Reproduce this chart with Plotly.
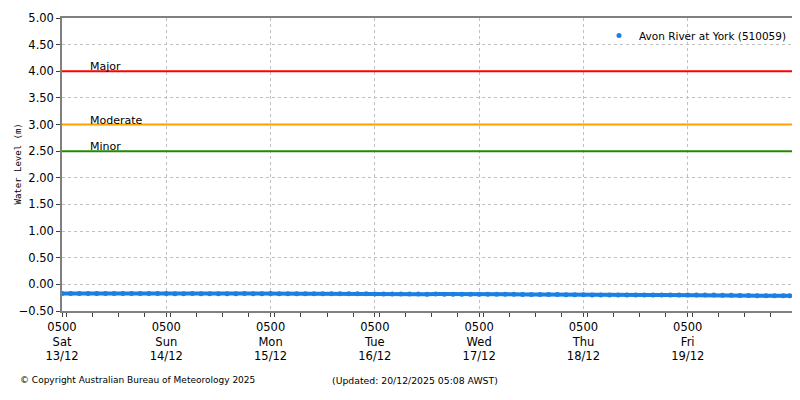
import pandas as pd
import plotly.graph_objects as go

# water level at York, every 2 hours from 0500 Sat 13/12
START = '2025-12-13 05:00'
LEVELS = [
    -0.170, -0.172, -0.170, -0.171, -0.173, -0.170, -0.172, -0.171, -0.170, -0.172, -0.173, -0.171,
    -0.172, -0.174, -0.176, -0.173, -0.178, -0.175, -0.177, -0.176, -0.174, -0.173, -0.175, -0.174,
    -0.173, -0.175, -0.174, -0.176, -0.175, -0.174, -0.176, -0.177, -0.178, -0.176, -0.177, -0.178,
    -0.179, -0.180, -0.181, -0.182, -0.181, -0.183, -0.184, -0.183, -0.185, -0.184, -0.185, -0.186,
    -0.185, -0.186, -0.187, -0.186, -0.187, -0.188, -0.189, -0.188, -0.190, -0.192, -0.194, -0.195,
    -0.196, -0.198, -0.199, -0.200, -0.199, -0.200, -0.201, -0.200, -0.199, -0.198, -0.199, -0.200,
    -0.199, -0.200, -0.201, -0.202, -0.203, -0.205, -0.208, -0.210, -0.212, -0.213, -0.214, -0.215,
    -0.216,
]

THRESH_NAMES = ['Major', 'Moderate', 'Minor']
THRESH_LEVELS = [4.0, 3.0, 2.5]
THRESH_COLORS = ['#ff0000', '#ffa000', '#208a00']

TICK_DAYS = ['Sat', 'Sun', 'Mon', 'Tue', 'Wed', 'Thu', 'Fri']
TICK_DATES = ['13/12', '14/12', '15/12', '16/12', '17/12', '18/12', '19/12']

BLUE = '#1b7fe3'
FONT = 'DejaVu Sans'

times = pd.date_range(START, periods=len(LEVELS), freq='2h')
# last reading is just before 0500 Sat 20/12
times = list(times[:-1]) + [times[-1] - pd.Timedelta(minutes=30)]
tick_vals = pd.date_range(START, periods=len(TICK_DAYS), freq='D')
tick_text = [f'0500<br>{d}<br>{dt}' for d, dt in zip(TICK_DAYS, TICK_DATES)]

fig = go.Figure()

fig.add_trace(go.Scatter(
    x=times, y=LEVELS, mode='lines',
    line={'color': BLUE, 'width': 4},
    showlegend=False, hoverinfo='skip'
))
fig.add_trace(go.Scatter(
    x=times, y=LEVELS, mode='markers',
    marker={'color': BLUE, 'size': 5},
    name='Avon River at York (510059)'
))

for name, level, color in zip(THRESH_NAMES, THRESH_LEVELS, THRESH_COLORS):
    fig.add_shape(
        type='line', xref='paper', yref='y',
        x0=0.0, x1=1.0, y0=level, y1=level,
        line={'color': color, 'width': 2}
    )
    fig.add_annotation(
        x=0.035, y=level, xref='paper', yref='y',
        xanchor='left', yanchor='bottom', yshift=-4,
        text=name, showarrow=False,
        font={'family': FONT, 'size': 11, 'color': 'black'}
    )

fig.add_annotation(
    x=-0.0616, y=0.5, xref='paper', yref='paper', xanchor='center', yanchor='middle',
    text='Water Level (m)', textangle=-90, showarrow=False,
    font={'family': 'DejaVu Sans Mono', 'size': 9, 'color': 'black'}
)
fig.add_annotation(
    x=-0.06, y=-0.237, xref='paper', yref='paper', xanchor='left', yanchor='middle',
    text='© Copyright Australian Bureau of Meteorology 2025', showarrow=False,
    font={'family': FONT, 'size': 9, 'color': 'black'}
)
fig.add_annotation(
    x=0.367, y=-0.237, xref='paper', yref='paper', xanchor='left', yanchor='middle',
    text='(Updated: 20/12/2025 05:08 AWST)', showarrow=False,
    font={'family': FONT, 'size': 9.3, 'color': 'black'}
)

axis_common = dict(
    showline=True, linecolor='#808080', linewidth=1.5, mirror=True,
    showgrid=True, gridcolor='#c0c0c0', griddash='dot', gridwidth=1,
    ticks='outside', ticklen=4, tickcolor='#404040',
    tickfont={'family': FONT, 'size': 11.5, 'color': 'black'},
    zeroline=False, automargin=False
)

fig.update_xaxes(
    range=[pd.Timestamp(START), pd.Timestamp(START) + pd.Timedelta(days=7)],
    tickvals=tick_vals, ticktext=tick_text,
    minor={'dtick': 6 * 3600 * 1000, 'ticks': 'outside', 'ticklen': 4,
           'tickcolor': '#404040', 'showgrid': False},
    **axis_common
)
fig.update_yaxes(
    range=[-0.5, 5.0], dtick=0.5, tickformat='.2f',
    **axis_common
)

# page body adds 8px, so the figure is 792x392 and margins are trimmed to match
fig.update_layout(
    width=792, height=392,
    margin={'l': 54, 'r': 8, 't': 10, 'b': 89},
    plot_bgcolor='white', paper_bgcolor='white',
    font={'family': FONT, 'size': 11, 'color': 'black'},
    legend={'x': 1.0, 'y': 0.99, 'xanchor': 'right', 'yanchor': 'top',
            'bgcolor': 'rgba(0,0,0,0)', 'font': {'family': FONT, 'size': 10.5},
            'itemwidth': 30},
    showlegend=True
)

fig.write_html('out.html')
